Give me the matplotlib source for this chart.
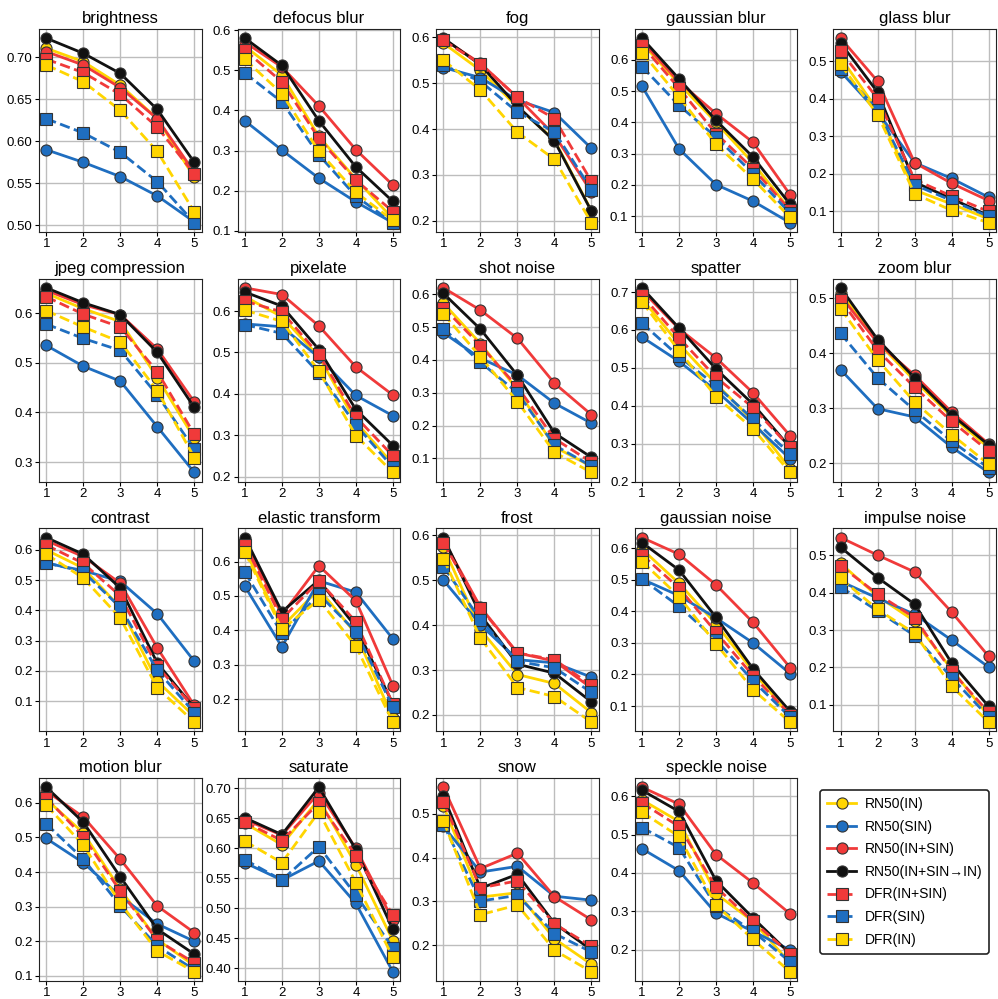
import matplotlib

matplotlib.use("Agg")
import matplotlib.pyplot as plt
from matplotlib.lines import Line2D

plt.rcParams["font.family"] = ["Liberation Sans", "DejaVu Sans"]

severity = [1, 2, 3, 4, 5]

labels = [
    "RN50(IN)",
    "RN50(SIN)",
    "RN50(IN+SIN)",
    "RN50(IN+SIN→IN)",
    "DFR(IN+SIN)",
    "DFR(SIN)",
    "DFR(IN)",
]

# one row per model, same order as labels
brightness = [
    [0.711, 0.695, 0.667, 0.627, 0.557],
    [0.590, 0.575, 0.558, 0.535, 0.504],
    [0.707, 0.691, 0.664, 0.627, 0.563],
    [0.723, 0.705, 0.681, 0.638, 0.575],
    [0.698, 0.682, 0.656, 0.617, 0.561],
    [0.627, 0.610, 0.587, 0.552, 0.503],
    [0.691, 0.671, 0.637, 0.588, 0.516],
]
defocus_blur = [
    [0.560, 0.488, 0.335, 0.229, 0.130],
    [0.374, 0.301, 0.231, 0.172, 0.120],
    [0.570, 0.508, 0.411, 0.302, 0.214],
    [0.580, 0.512, 0.374, 0.259, 0.173],
    [0.550, 0.471, 0.330, 0.226, 0.148],
    [0.493, 0.421, 0.289, 0.186, 0.120],
    [0.527, 0.442, 0.298, 0.196, 0.126],
]
fog = [
    [0.587, 0.528, 0.448, 0.376, 0.222],
    [0.534, 0.512, 0.463, 0.436, 0.358],
    [0.596, 0.543, 0.469, 0.387, 0.263],
    [0.598, 0.540, 0.450, 0.374, 0.221],
    [0.593, 0.542, 0.469, 0.423, 0.286],
    [0.539, 0.504, 0.437, 0.394, 0.268],
    [0.550, 0.485, 0.393, 0.334, 0.196],
]
gaussian_blur = [
    [0.653, 0.523, 0.400, 0.270, 0.120],
    [0.515, 0.315, 0.201, 0.148, 0.079],
    [0.660, 0.529, 0.428, 0.336, 0.169],
    [0.669, 0.539, 0.406, 0.289, 0.138],
    [0.646, 0.509, 0.364, 0.252, 0.119],
    [0.578, 0.454, 0.353, 0.236, 0.109],
    [0.623, 0.481, 0.330, 0.218, 0.096],
]
glass_blur = [
    [0.510, 0.370, 0.157, 0.120, 0.080],
    [0.473, 0.365, 0.230, 0.188, 0.138],
    [0.562, 0.447, 0.230, 0.175, 0.129],
    [0.549, 0.418, 0.178, 0.134, 0.089],
    [0.527, 0.401, 0.185, 0.141, 0.100],
    [0.480, 0.370, 0.171, 0.129, 0.087],
    [0.492, 0.358, 0.147, 0.103, 0.070],
]
jpeg_compression = [
    [0.640, 0.609, 0.583, 0.470, 0.348],
    [0.535, 0.493, 0.463, 0.371, 0.279],
    [0.646, 0.617, 0.597, 0.528, 0.421],
    [0.651, 0.621, 0.597, 0.521, 0.410],
    [0.633, 0.598, 0.572, 0.482, 0.356],
    [0.578, 0.549, 0.525, 0.435, 0.326],
    [0.605, 0.572, 0.542, 0.444, 0.309],
]
pixelate = [
    [0.635, 0.586, 0.490, 0.332, 0.230],
    [0.569, 0.562, 0.488, 0.396, 0.347],
    [0.656, 0.640, 0.564, 0.465, 0.397],
    [0.646, 0.612, 0.507, 0.362, 0.275],
    [0.624, 0.598, 0.495, 0.344, 0.250],
    [0.567, 0.546, 0.450, 0.325, 0.222],
    [0.602, 0.575, 0.455, 0.299, 0.210],
]
shot_noise = [
    [0.573, 0.450, 0.310, 0.135, 0.075],
    [0.483, 0.405, 0.354, 0.268, 0.207],
    [0.620, 0.552, 0.466, 0.329, 0.233],
    [0.603, 0.494, 0.353, 0.177, 0.103],
    [0.560, 0.444, 0.318, 0.160, 0.088],
    [0.496, 0.393, 0.300, 0.140, 0.076],
    [0.540, 0.410, 0.273, 0.118, 0.057],
]
spatter = [
    [0.682, 0.563, 0.458, 0.360, 0.233],
    [0.581, 0.517, 0.440, 0.352, 0.260],
    [0.704, 0.603, 0.526, 0.434, 0.321],
    [0.711, 0.605, 0.497, 0.404, 0.290],
    [0.691, 0.579, 0.475, 0.395, 0.290],
    [0.618, 0.530, 0.453, 0.365, 0.273],
    [0.674, 0.545, 0.424, 0.339, 0.224],
]
zoom_blur = [
    [0.510, 0.420, 0.350, 0.285, 0.228],
    [0.370, 0.299, 0.284, 0.229, 0.183],
    [0.504, 0.419, 0.360, 0.293, 0.235],
    [0.519, 0.425, 0.355, 0.288, 0.233],
    [0.497, 0.405, 0.338, 0.276, 0.222],
    [0.436, 0.355, 0.296, 0.240, 0.191],
    [0.481, 0.388, 0.311, 0.252, 0.198],
]
contrast = [
    [0.600, 0.540, 0.410, 0.166, 0.050],
    [0.556, 0.532, 0.496, 0.389, 0.232],
    [0.631, 0.578, 0.490, 0.276, 0.086],
    [0.641, 0.586, 0.474, 0.226, 0.078],
    [0.616, 0.556, 0.448, 0.215, 0.078],
    [0.558, 0.528, 0.410, 0.202, 0.062],
    [0.586, 0.507, 0.375, 0.144, 0.031],
]
elastic_transform = [
    [0.635, 0.410, 0.520, 0.390, 0.145],
    [0.528, 0.352, 0.544, 0.511, 0.375],
    [0.662, 0.445, 0.588, 0.486, 0.239],
    [0.670, 0.454, 0.546, 0.410, 0.186],
    [0.649, 0.433, 0.544, 0.425, 0.186],
    [0.569, 0.391, 0.505, 0.396, 0.177],
    [0.628, 0.403, 0.489, 0.354, 0.133],
]
frost = [
    [0.574, 0.390, 0.290, 0.270, 0.205],
    [0.500, 0.401, 0.323, 0.316, 0.284],
    [0.589, 0.440, 0.338, 0.320, 0.260],
    [0.595, 0.423, 0.313, 0.293, 0.229],
    [0.583, 0.438, 0.338, 0.323, 0.266],
    [0.530, 0.412, 0.319, 0.305, 0.250],
    [0.548, 0.371, 0.261, 0.241, 0.184],
]
gaussian_noise = [
    [0.597, 0.489, 0.360, 0.210, 0.068],
    [0.502, 0.450, 0.379, 0.300, 0.203],
    [0.634, 0.581, 0.484, 0.365, 0.222],
    [0.618, 0.531, 0.381, 0.218, 0.083],
    [0.579, 0.474, 0.334, 0.196, 0.073],
    [0.502, 0.416, 0.310, 0.180, 0.065],
    [0.558, 0.447, 0.297, 0.152, 0.049],
]
impulse_noise = [
    [0.478, 0.390, 0.324, 0.195, 0.070],
    [0.430, 0.385, 0.342, 0.273, 0.201],
    [0.547, 0.500, 0.455, 0.348, 0.230],
    [0.521, 0.440, 0.369, 0.212, 0.096],
    [0.471, 0.396, 0.333, 0.190, 0.080],
    [0.415, 0.351, 0.285, 0.173, 0.068],
    [0.438, 0.355, 0.291, 0.150, 0.054],
]
motion_blur = [
    [0.610, 0.513, 0.350, 0.205, 0.130],
    [0.497, 0.427, 0.330, 0.250, 0.200],
    [0.634, 0.559, 0.437, 0.302, 0.225],
    [0.645, 0.544, 0.386, 0.235, 0.163],
    [0.614, 0.502, 0.345, 0.203, 0.138],
    [0.539, 0.438, 0.302, 0.186, 0.118],
    [0.593, 0.478, 0.310, 0.172, 0.112],
]
saturate = [
    [0.642, 0.606, 0.682, 0.573, 0.446],
    [0.576, 0.547, 0.579, 0.508, 0.394],
    [0.648, 0.622, 0.693, 0.600, 0.480],
    [0.651, 0.623, 0.702, 0.598, 0.465],
    [0.644, 0.613, 0.676, 0.588, 0.489],
    [0.581, 0.547, 0.603, 0.522, 0.434],
    [0.612, 0.576, 0.661, 0.543, 0.418],
]
snow = [
    [0.517, 0.310, 0.320, 0.215, 0.157],
    [0.471, 0.367, 0.380, 0.312, 0.303],
    [0.560, 0.375, 0.410, 0.311, 0.258],
    [0.540, 0.330, 0.362, 0.250, 0.190],
    [0.526, 0.331, 0.347, 0.249, 0.198],
    [0.475, 0.301, 0.314, 0.227, 0.185],
    [0.483, 0.270, 0.292, 0.189, 0.140],
]
speckle_noise = [
    [0.590, 0.534, 0.346, 0.274, 0.166],
    [0.463, 0.406, 0.295, 0.248, 0.200],
    [0.623, 0.579, 0.448, 0.374, 0.294],
    [0.615, 0.560, 0.380, 0.283, 0.190],
    [0.582, 0.521, 0.363, 0.274, 0.190],
    [0.518, 0.466, 0.313, 0.248, 0.169],
    [0.558, 0.495, 0.317, 0.227, 0.143],
]

panels = [
    ("brightness", brightness),
    ("defocus blur", defocus_blur),
    ("fog", fog),
    ("gaussian blur", gaussian_blur),
    ("glass blur", glass_blur),
    ("jpeg compression", jpeg_compression),
    ("pixelate", pixelate),
    ("shot noise", shot_noise),
    ("spatter", spatter),
    ("zoom blur", zoom_blur),
    ("contrast", contrast),
    ("elastic transform", elastic_transform),
    ("frost", frost),
    ("gaussian noise", gaussian_noise),
    ("impulse noise", impulse_noise),
    ("motion blur", motion_blur),
    ("saturate", saturate),
    ("snow", snow),
    ("speckle noise", speckle_noise),
]

YELLOW = "#FFD500"
BLUE = "#1F6EC0"
RED = "#F03A3A"
BLACK = "#111111"
colors = [YELLOW, BLUE, RED, BLACK, RED, BLUE, YELLOW]
markers = ["o", "o", "o", "o", "s", "s", "s"]
styles = ["-", "-", "-", "-", "--", "--", "--"]

fig, axes = plt.subplots(4, 5, figsize=(9.98, 9.99), dpi=100)
fig.subplots_adjust(left=0.039, right=0.998, top=0.971, bottom=0.018,
                    wspace=0.22, hspace=0.23)

for ax, (title, rows) in zip(axes.flat, panels):
    for values, color, marker, ls in zip(rows, colors, markers, styles):
        ax.plot(severity, values, color=color, linestyle=ls, linewidth=2,
                marker=marker, markersize=8, markerfacecolor=color,
                markeredgecolor="#333333", markeredgewidth=0.8)
    ax.set_title(title, fontsize=12, pad=4)
    ax.set_xticks(severity)
    ax.tick_params(labelsize=9.5, length=3, pad=1.5)
    ax.grid(True, color="#bdbdbd", linewidth=1)
    ax.set_axisbelow(True)
    for spine in ax.spines.values():
        spine.set_color("#222222")

axes.flat[-1].axis("off")

handles = [
    Line2D([0], [0], color=c, linestyle=ls, linewidth=2, marker=m,
           markersize=8, markerfacecolor=c, markeredgecolor="#333333",
           markeredgewidth=0.8)
    for c, m, ls in zip(colors, markers, styles)
]
leg = fig.legend(handles, labels, loc="upper left",
                 bbox_to_anchor=(820 / 998, 1 - 790 / 999), fontsize=10,
                 handlelength=2.1, handletextpad=0.6, labelspacing=0.62,
                 borderpad=0.5, borderaxespad=0, fancybox=True, framealpha=1)
leg.get_frame().set_edgecolor("#222222")
leg.get_frame().set_linewidth(1.2)

fig.savefig("out.png", dpi=100)
plt.close(fig)
